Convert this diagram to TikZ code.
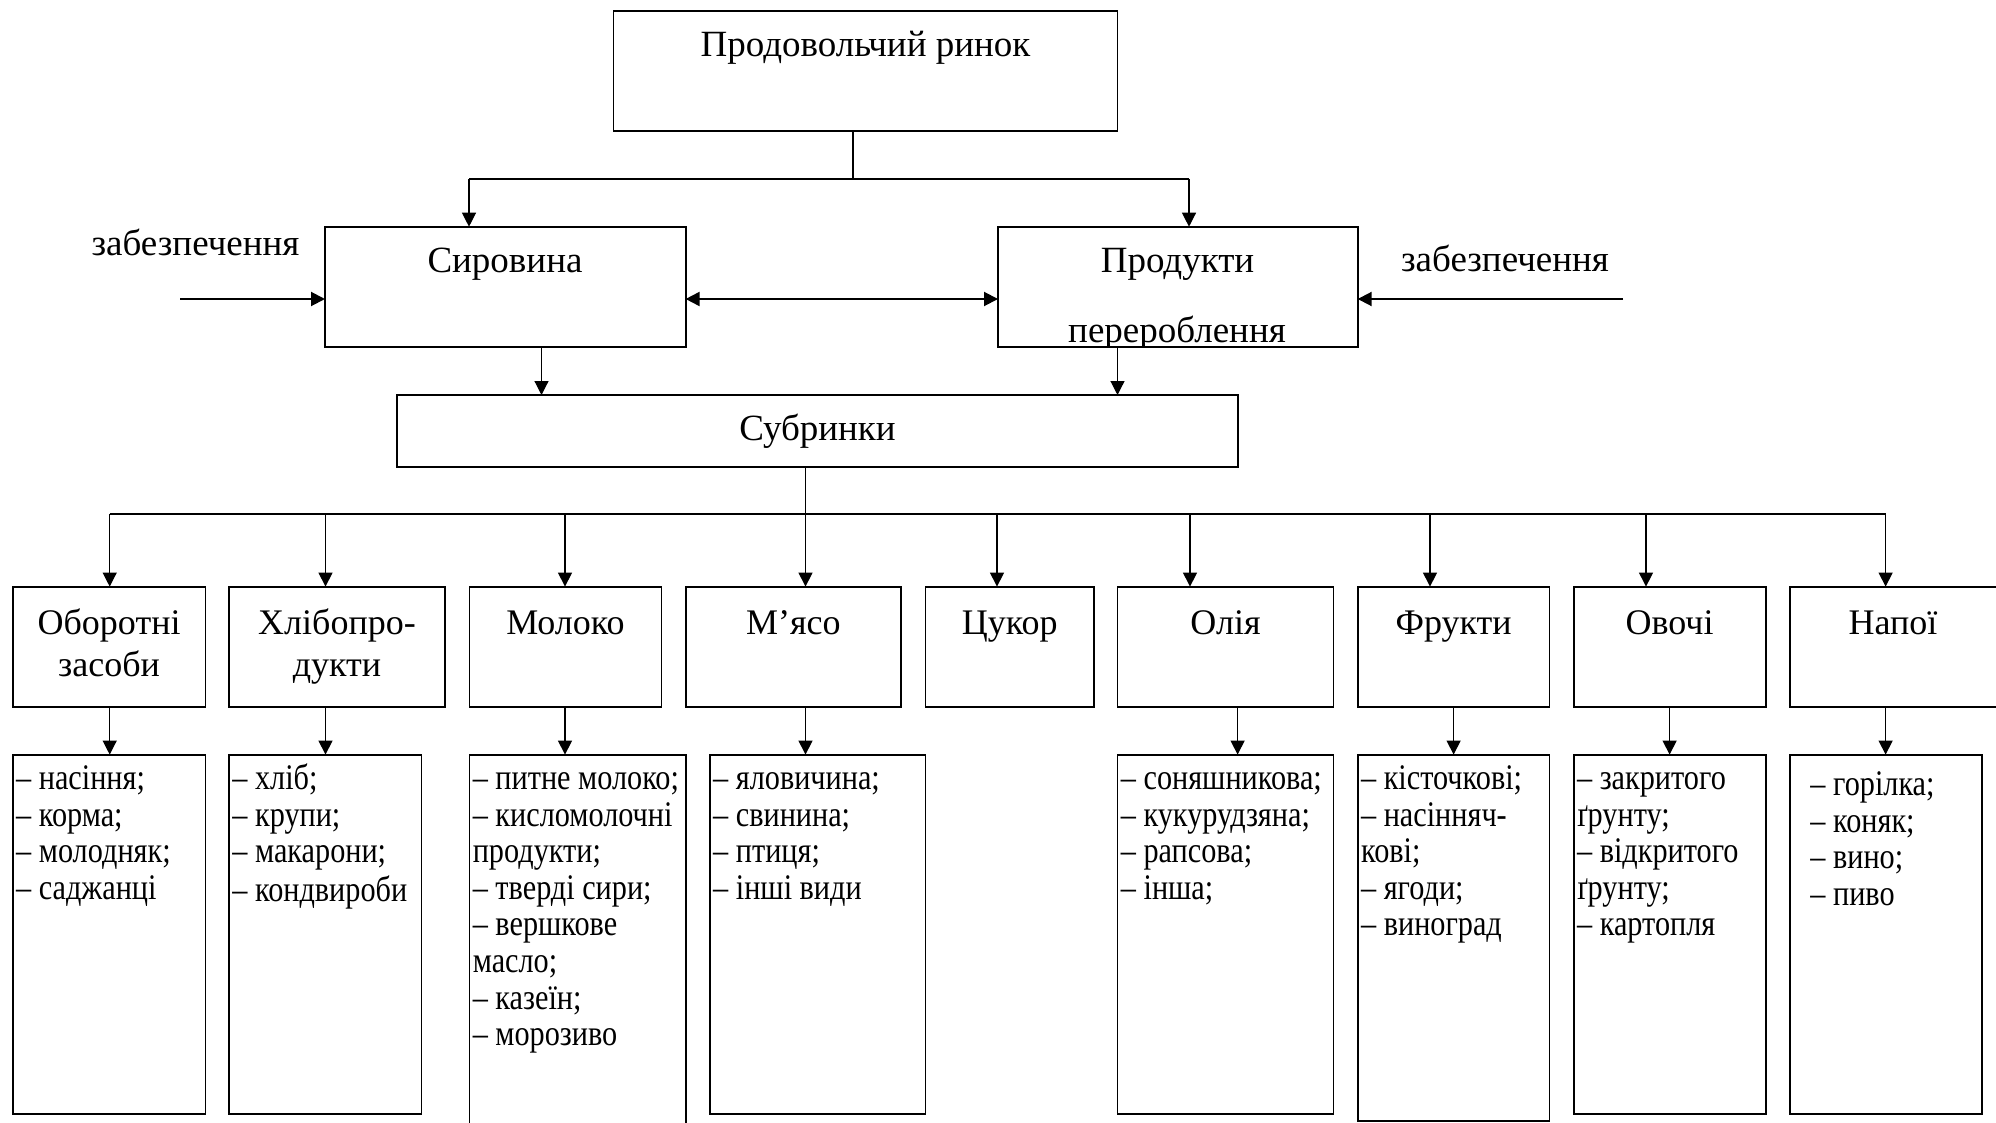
\documentclass[tikz,border=0pt]{standalone}
\usepackage{fontspec}
\setmainfont{Liberation Serif}
\newfontfamily\lstf{Liberation Serif}[FakeStretch=0.84]
\usetikzlibrary{arrows.meta}
\newcommand\fsz{\fontsize{18.5}{18.3}\selectfont}
\newcommand\lsz{\lstf\fontsize{18}{18.3}\selectfont}
\newcommand\ftz{\fontsize{18}{21}\selectfont}
\newcommand\mkbox[5]{\node[bx, minimum width={(#4-#2)*0.5pt}, minimum height={(#5-#3)*0.5pt}] (#1) at (#2,#3) {};}
\tikzset{
  bx/.style={draw, line width=0.9pt, inner sep=0pt, outer sep=0pt, anchor=north west},
  conn/.style={line width=0.6pt},
  hconn/.style={line width=1pt},
  arr/.style={conn, -{Triangle[length=7pt,width=7pt]}},
  harr/.style={hconn, -{Triangle[length=7pt,width=7pt]}},
  lbl/.style={font=\fsz, anchor=base, inner sep=0pt},
  ttl/.style={font=\ftz, align=center, anchor=north, inner sep=0pt},
  lst/.style={font=\lsz, align=left, anchor=north west, inner sep=0pt},
}
\begin{document}
\begin{tikzpicture}[x=0.5pt, y=-0.5pt]
\useasboundingbox (0,0) rectangle (1996,1123);
\begin{scope}
\clip (0,0) rectangle (1996,1123);
% top level
\mkbox{top}{613.5}{10.7}{1117.5}{130.7}
\node[lbl] (toptx) at (865.5,57) {Продовольчий ринок};
\mkbox{syr}{325}{226.7}{685.6}{346.7}
\node[lbl] (syrtx) at (505,272) {Сировина};
\mkbox{prod}{998}{226.7}{1357.7}{346.7}
\node[lbl] (prodtx) at (1177.5,272) {Продукти};
\begin{scope}
\clip (prod.north west) rectangle (prod.south east);
\node[lbl] (prodtx2) at (1177,343) {перероблення};
\end{scope}
\mkbox{sub}{397.3}{395}{1238}{467}
\node[lbl] (subtx) at (817.5,440) {Субринки};
\node[lbl] (zabL) at (195.5,256) {забезпечення};
\node[lbl] (zabR) at (1505,271) {забезпечення};

% connectors top
\coordinate (j0) at (853,178.7);
\coordinate (jL) at (469,178.7);
\coordinate (jR) at (1189,178.7);
\draw[conn] (j0 |- top.south) -- (j0);
\draw[hconn] (jL) -- (jR);
\draw[arr] (jL) -- (jL |- syr.north);
\draw[arr] (jR) -- (jR |- prod.north);
\coordinate (ha) at (0,299);
\draw[hconn, {Triangle[length=7pt,width=7pt]}-{Triangle[length=7pt,width=7pt]}] (syr.east |- ha) -- (prod.west |- ha);
\coordinate (lin) at (180,299);
\coordinate (rin) at (1623,299);
\draw[harr] (lin) -- (lin -| syr.west);
\draw[harr] (rin) -- (rin -| prod.east);
\coordinate (sx1) at (541.5,0);
\coordinate (sx2) at (1117.5,0);
\draw[arr] (sx1 |- syr.south) -- (sx1 |- sub.north);
\draw[arr] (sx2 |- prod.south) -- (sx2 |- sub.north);

% categories
\mkbox{c1}{12.8}{586.6}{205.4}{706.6}
\mkbox{c2}{229}{586.6}{445}{706.6}
\mkbox{c3}{469.4}{586.6}{661.4}{706.6}
\mkbox{c4}{685.6}{586.6}{901}{706.6}
\mkbox{c5}{925.4}{586.6}{1094}{706.6}
\mkbox{c6}{1117.5}{586.6}{1333.5}{706.6}
\mkbox{c7}{1357.7}{586.6}{1549.5}{706.6}
\mkbox{c8}{1573.7}{586.6}{1765.6}{706.6}
\mkbox{c9}{1789.7}{586.6}{2010}{706.6}
\node[ttl] (c1t) at (109.1,604.6) {\strut Оборотні\\\strut засоби};
\node[ttl] (c2t) at (337,604.6) {\strut Хлібопро-\\\strut дукти};
\node[ttl] (c3t) at (565.4,604.6) {\strut Молоко};
\node[ttl] (c4t) at (793.3,604.6) {\strut М’ясо};
\node[ttl] (c5t) at (1009.7,604.6) {\strut Цукор};
\node[ttl] (c6t) at (1225.5,604.6) {\strut Олія};
\node[ttl] (c7t) at (1453.6,604.6) {\strut Фрукти};
\node[ttl] (c8t) at (1669.6,604.6) {\strut Овочі};
\node[ttl] (c9t) at (1893,604.6) {\strut Напої};

% distribution line
\coordinate (b0) at (805.5,514);
\draw[conn] (b0 |- sub.south) -- (b0);
\coordinate (bL) at (109.7,514);
\coordinate (bR) at (1885.6,514);
\draw[hconn] (bL) -- (bR);
\foreach \n/\a in {c1/109.7, c2/325.5, c3/565, c4/805.5, c5/997, c6/1190, c7/1430, c8/1646, c9/1885.6}{
  \coordinate (a\n) at (\a,514);
  \draw[arr] (a\n) -- (a\n |- \n.north);
}

% lists
\mkbox{l1}{12.8}{754.6}{205.4}{1114}
\mkbox{l2}{229}{754.6}{421.5}{1114}
\mkbox{l3}{469.4}{754.6}{685.6}{1140}
\mkbox{l4}{709.8}{754.6}{925.4}{1114}
\mkbox{l6}{1117.5}{754.6}{1333.5}{1114}
\mkbox{l7}{1357.7}{754.6}{1549.5}{1121}
\mkbox{l8}{1573.7}{754.6}{1765.6}{1114}
\mkbox{l9}{1789.7}{754.6}{1981.6}{1114}
\foreach \n/\m/\a in {c1/l1/109.7, c2/l2/325.5, c3/l3/565, c4/l4/805.5, c6/l6/1237.6, c7/l7/1453.6, c8/l8/1669.6, c9/l9/1885.6}{
  \coordinate (u\n) at (\a,0);
  \draw[arr] (u\n |- \n.south) -- (u\n |- \m.north);
}
\node[lst] (l1t) at (15.8,763.4) {\strut – насіння;\\\strut – корма;\\\strut – молодняк;\\\strut – саджанці};
\node[lst] (l2t) at (232,763.4) {\strut – хліб;\\\strut – крупи;\\\strut – макарони;\\\strut – кондвироби};
\node[lst] (l3t) at (472.4,763.4) {\strut – питне молоко;\\\strut – кисломолочні\\\strut продукти;\\\strut – тверді сири;\\\strut – вершкове\\\strut масло;\\\strut – казеїн;\\\strut – морозиво};
\node[lst] (l4t) at (712.8,763.4) {\strut – яловичина;\\\strut – свинина;\\\strut – птиця;\\\strut – інші види};
\node[lst] (l6t) at (1120.5,763.4) {\strut – соняшникова;\\\strut – кукурудзяна;\\\strut – рапсова;\\\strut – інша;};
\node[lst] (l7t) at (1360.7,763.4) {\strut – кісточкові;\\\strut – насінняч-\\\strut кові;\\\strut – ягоди;\\\strut – виноград};
\node[lst] (l8t) at (1576.7,763.4) {\strut – закритого\\\strut ґрунту;\\\strut – відкритого\\\strut ґрунту;\\\strut – картопля};
\node[lst] (l9t) at (1810,769.4) {\strut – горілка;\\\strut – коняк;\\\strut – вино;\\\strut – пиво};
\end{scope}
\end{tikzpicture}
\end{document}
